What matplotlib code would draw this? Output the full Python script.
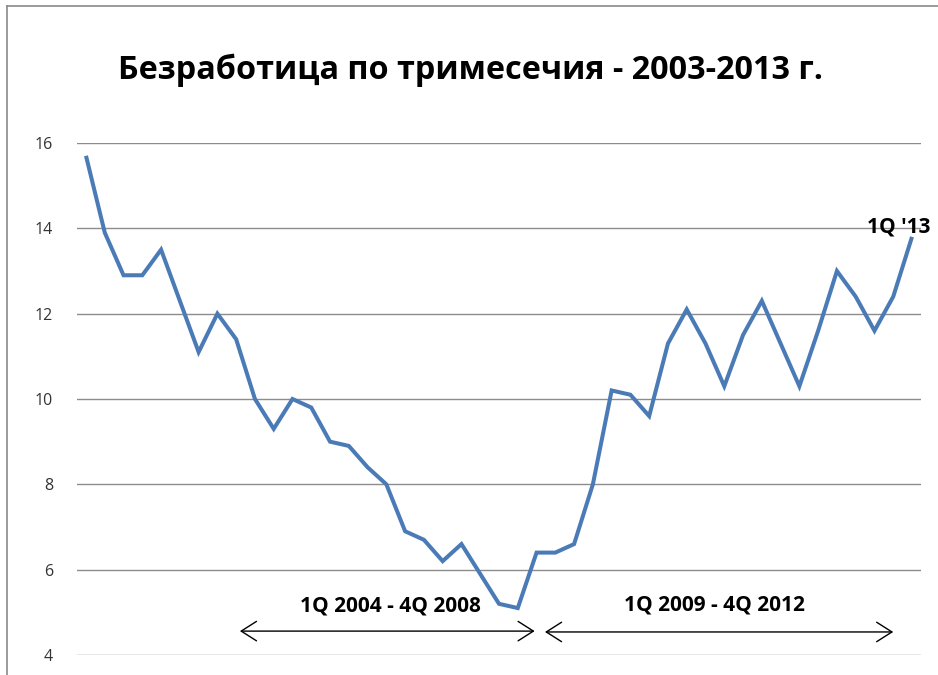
import matplotlib
matplotlib.use("Agg")
import matplotlib.pyplot as plt
from matplotlib.lines import Line2D

plt.rcParams["font.family"] = ["Open Sans", "DejaVu Sans"]

# Quarterly unemployment rate, 1Q 2002 .. 1Q 2013
quarters = [f"{q}Q {y}" for y in range(2002, 2013) for q in range(1, 5)] + ["1Q 2013"]
unemployment = [
    15.7, 13.9, 12.9, 12.9, 13.5, 12.3, 11.1, 12.0,
    11.4, 10.0, 9.3, 10.0, 9.8, 9.0, 8.9, 8.4,
    8.0, 6.9, 6.7, 6.2, 6.6, 5.9, 5.2, 5.1,
    6.4, 6.4, 6.6, 8.0, 10.2, 10.1, 9.6, 11.3,
    12.1, 11.3, 10.3, 11.5, 12.3, 11.3, 10.3, 11.6,
    13.0, 12.4, 11.6, 12.4, 13.8,
]
y_ticks = [4, 6, 8, 10, 12, 14, 16]

title = "Безработица по тримесечия - 2003-2013 г."
period_labels = ["1Q 2004 - 4Q 2008", "1Q 2009 - 4Q 2012"]
last_label = "1Q '13"

W, H = 938, 675
fig = plt.figure(figsize=(W / 100, H / 100), dpi=100)
fig.patch.set_facecolor("white")

ax = fig.add_axes([76.6 / W, (H - 655) / H, (921.4 - 76.6) / W, (655 - 143) / H])
x = list(range(len(quarters)))
ax.plot(x, unemployment, color="#4A7BB7", linewidth=2.9, solid_joinstyle="miter",
        solid_capstyle="butt", zorder=3)

ax.set_xlim(-0.5, len(quarters) - 0.5)
ax.set_ylim(4, 16)
ax.set_yticks(y_ticks)
ax.set_yticklabels([str(t) for t in y_ticks], fontsize=11.5, color="#333333")
ax.set_xticks([])
ax.tick_params(axis="y", length=0, pad=17)
ax.grid(axis="y", color="#8c8c8c", linewidth=1.0)
ax.set_axisbelow(True)
for s in ax.spines.values():
    s.set_visible(False)
ax.patch.set_alpha(0)

fig.text(470 / W, 1 - 70 / H, title, ha="center", va="center",
         fontsize=23.3, fontweight="bold", color="black")

# period arrows and labels
arrow_kw = dict(arrowstyle="<->,head_length=1.1,head_width=0.7", color="black", lw=1.0,
                shrinkA=0, shrinkB=0)
ax.annotate("", xy=(8.2, 4.56), xytext=(23.9, 4.56), arrowprops=arrow_kw, annotation_clip=False)
ax.annotate("", xy=(24.45, 4.54), xytext=(43.0, 4.54), arrowprops=arrow_kw, annotation_clip=False)
ax.text(16.2, 5.15, period_labels[0], ha="center", va="center", fontsize=15,
        fontweight="bold", zorder=2)
ax.text(33.5, 5.17, period_labels[1], ha="center", va="center", fontsize=15,
        fontweight="bold")

ax.annotate(last_label, xy=(x[-1], unemployment[-1]), xytext=(-13, 10),
            textcoords="offset pixels", ha="center", va="center", fontsize=15,
            fontweight="bold", annotation_clip=False)

# outer chart frame (left and top edges)
fig.add_artist(Line2D([7 / W, 7 / W], [0, 1 - 6 / H], color="#8a8a8a", lw=1.2))
fig.add_artist(Line2D([7 / W, 1], [1 - 6 / H, 1 - 6 / H], color="#8a8a8a", lw=1.2))

fig.savefig("out.png", dpi=100)
